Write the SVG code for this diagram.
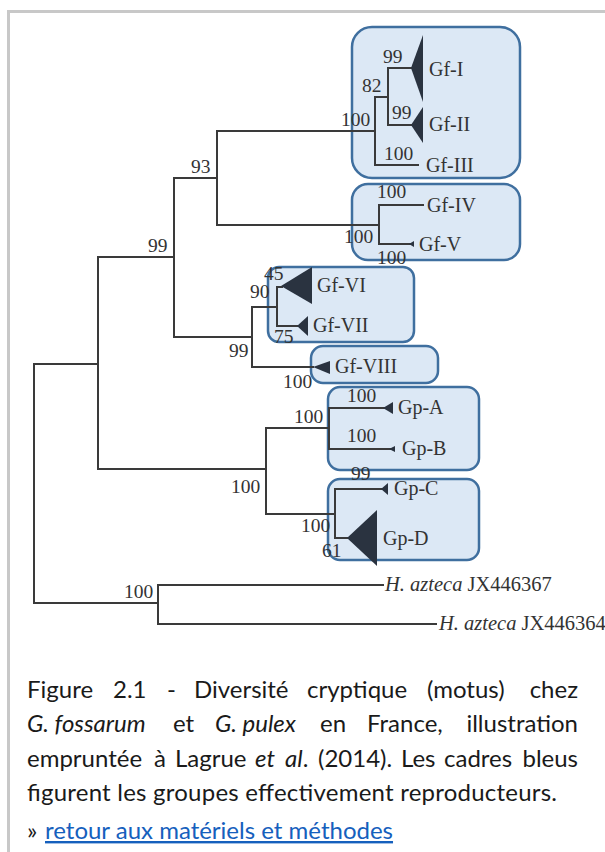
<svg xmlns="http://www.w3.org/2000/svg" width="605" height="852" viewBox="0 0 605 852">
<style>
.frame{stroke:#c8c8c8;stroke-width:3;fill:none}
.box{fill:#dce8f5;stroke:#3f6f9f;stroke-width:2.5}
.br{stroke:#3a3a3a;stroke-width:2;fill:none;stroke-linecap:square}
.tri{fill:#2a3340}
.t{font-family:"Liberation Serif","Times New Roman",serif;font-size:20px;fill:#333}
.az{font-size:20.5px}
.n{font-family:"Liberation Serif","Times New Roman",serif;font-size:19.5px;fill:#333}
.cap{font-family:Lato,"Liberation Sans",sans-serif;font-size:24px;fill:#1a1a1a}
.it{font-style:italic}
.link{fill:#1560bd;text-decoration:underline}
</style>
<rect width="605" height="852" fill="#fff"/>
<path class="frame" d="M8.5,852 V11.5 H605"/>

<g id="boxes">
  <g id="clade-gf-i-iii"><rect class="box" x="352" y="27" width="168" height="151" rx="20"/></g>
  <g id="clade-gf-iv-v"><rect class="box" x="352" y="184" width="168" height="76" rx="16"/></g>
  <g id="clade-gf-vi-vii"><rect class="box" x="268" y="267" width="146" height="75" rx="11"/></g>
  <g id="clade-gf-viii"><rect class="box" x="311" y="346" width="127" height="37" rx="12"/></g>
  <g id="clade-gp-a-b"><rect class="box" x="328" y="387" width="151" height="83" rx="12"/></g>
  <g id="clade-gp-c-d"><rect class="box" x="328" y="479" width="151" height="81" rx="12"/></g>
</g>

<g id="connectors">
  <path class="br" d="M34,603 V364 H98 M98,257 V469 M98,257 H174 M174,178 V337 M174,178 H217 M217,131 V225 M217,131 H375 M375,97 V165 M375,97 H388 M388,68 V125 M388,68 H411 M388,125 H411 M375,165 H418 M217,225 H379 M379,205 V244 M379,205 H423 M379,244 H411 M174,337 H252 M252,307 V367 M252,307 H277 M277,287 V326 M277,287 H282 M277,326 H297 M252,367 H313 M98,469 H266 M266,428 V514 M266,428 H329 M329,408 V449 M329,408 H384 M329,449 H390 M266,514 H335 M335,489 V538 M335,489 H382 M335,538 H347 M34,603 H158 M158,585 V624 M158,585 H383 M158,624 H436"/>
</g>

<g id="support-values" class="n">
  <text x="191" y="173">93</text>
  <text x="148" y="252">99</text>
  <text x="341" y="126">100</text>
  <text x="362" y="92">82</text>
  <text x="383" y="63">99</text>
  <text x="392" y="119">99</text>
  <text x="384" y="160">100</text>
  <text x="377" y="198">100</text>
  <text x="344" y="243">100</text>
  <text x="377" y="264">100</text>
  <text x="264" y="280">45</text>
  <text x="250" y="298">90</text>
  <text x="274" y="343">75</text>
  <text x="229" y="357">99</text>
  <text x="283" y="388">100</text>
  <text x="294" y="423">100</text>
  <text x="347" y="402">100</text>
  <text x="347" y="442">100</text>
  <text x="231" y="493">100</text>
  <text x="351" y="480">99</text>
  <text x="301" y="532">100</text>
  <text x="322" y="557">61</text>
  <text x="124" y="598">100</text>
</g>

<g id="node-gf-i"><polygon class="tri" points="411,68 423,35 423,102"/><text class="t" x="429" y="76">Gf-I</text></g>
<g id="node-gf-ii"><polygon class="tri" points="411,125 423,107 423,143"/><text class="t" x="429" y="131">Gf-II</text></g>
<g id="node-gf-iii"><text class="t" x="426" y="172">Gf-III</text></g>
<g id="node-gf-iv"><text class="t" x="427" y="212">Gf-IV</text></g>
<g id="node-gf-v"><polygon class="tri" points="409,244 414,241 414,247"/><text class="t" x="419" y="251">Gf-V</text></g>
<g id="node-gf-vi"><polygon class="tri" points="281,286 312,267 312,304"/><text class="t" x="317" y="292">Gf-VI</text></g>
<g id="node-gf-vii"><polygon class="tri" points="297,326 308,316 308,336"/><text class="t" x="313" y="332">Gf-VII</text></g>
<g id="node-gf-viii"><polygon class="tri" points="313,367 330,361 330,374"/><text class="t" x="335" y="373">Gf-VIII</text></g>
<g id="node-gp-a"><polygon class="tri" points="383,408 393,402 393,414"/><text class="t" x="398" y="414">Gp-A</text></g>
<g id="node-gp-b"><polygon class="tri" points="389,449 395,446 395,452"/><text class="t" x="402" y="455">Gp-B</text></g>
<g id="node-gp-c"><polygon class="tri" points="381,489 388,483 388,495"/><text class="t" x="394" y="495">Gp-C</text></g>
<g id="node-gp-d"><polygon class="tri" points="347,538 377,510 377,566"/><text class="t" x="383" y="545">Gp-D</text></g>
<g id="node-hazteca-367"><text class="t az" x="385" y="591"><tspan class="it">H. azteca</tspan> JX446367</text></g>
<g id="node-hazteca-364"><text class="t az" x="439" y="630"><tspan class="it">H. azteca</tspan> JX446364</text></g>

<g id="caption" class="cap">
  <text y="698"><tspan x="27">Figure</tspan><tspan x="113">2.1</tspan><tspan x="167">-</tspan><tspan x="194">Diversité</tspan><tspan x="307">cryptique</tspan><tspan x="427">(motus)</tspan></text>
  <text x="578" y="698" text-anchor="end">chez</text>
  <text y="732"><tspan x="27" class="it">G. fossarum</tspan><tspan x="173">et</tspan><tspan x="215" class="it">G. pulex</tspan><tspan x="320">en</tspan><tspan x="367">France,</tspan></text>
  <text x="578" y="732" text-anchor="end">illustration</text>
  <text y="767"><tspan x="27">empruntée</tspan><tspan x="154">à</tspan><tspan x="175">Lagrue</tspan><tspan x="255" class="it">et</tspan><tspan x="285" class="it">al</tspan><tspan>.</tspan><tspan x="318">(2014).</tspan><tspan x="401">Les</tspan><tspan x="444">cadres</tspan></text>
  <text x="578" y="767" text-anchor="end">bleus</text>
  <text x="27" y="801" textLength="530" lengthAdjust="spacing">figurent les groupes effectivement reproducteurs.</text>
  <text x="27" y="839">» <tspan x="45" class="link">retour aux matériels et méthodes</tspan></text>
</g>
</svg>
